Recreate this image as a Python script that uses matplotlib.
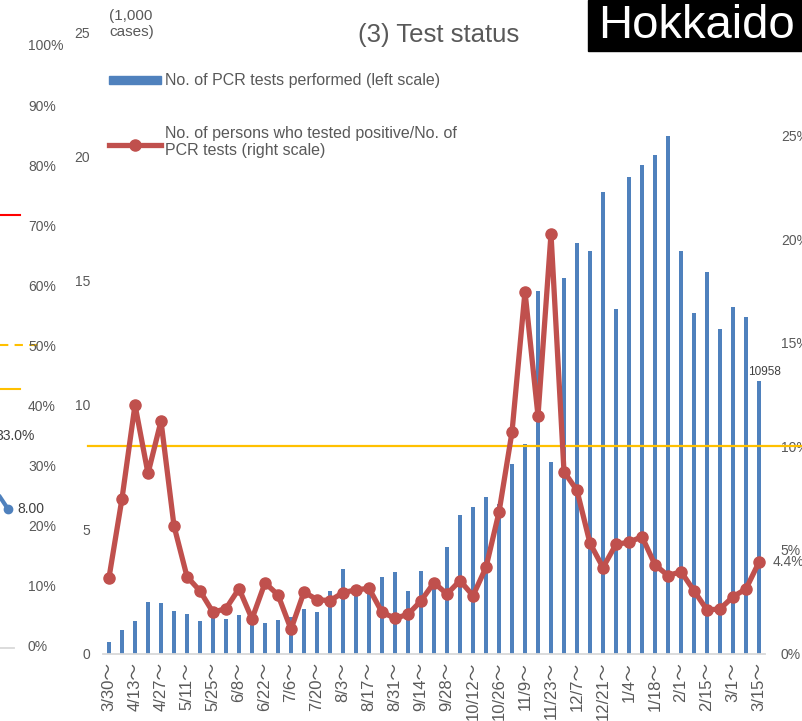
import matplotlib.pyplot as plt
import matplotlib.patches as mpatches
from matplotlib.lines import Line2D

plt.rcParams['font.family'] = ['Liberation Sans', 'Noto Sans CJK JP', 'DejaVu Sans']

# weekly data, week starting 3/30 (2020) to 3/15 (2021)
week_labels = ['3/30～', '4/13～', '4/27～', '5/11～', '5/25～', '6/8～', '6/22～',
               '7/6～', '7/20～', '8/3～', '8/17～', '8/31～', '9/14～', '9/28～',
               '10/12～', '10/26～', '11/9～', '11/23～', '12/7～', '12/21～',
               '1/4～', '1/18～', '2/1～', '2/15～', '3/1～', '3/15～']

# no. of PCR tests (1,000 cases)
pcr_tests = [0.47, 0.95, 1.29, 2.07, 2.05, 1.71, 1.60, 1.32, 1.85, 1.37,
             1.55, 1.43, 1.24, 1.33, 1.48, 1.80, 1.67, 2.52, 3.38, 2.50,
             2.70, 3.09, 3.28, 2.52, 3.32, 2.86, 4.27, 5.59, 5.91, 6.31,
             6.00, 7.64, 8.44, 14.57, 7.70, 15.09, 16.52, 16.20, 18.56, 13.84,
             19.16, 19.67, 20.07, 20.80, 16.20, 13.71, 15.36, 13.04, 13.94, 13.54,
             10.958]

# positive rate (%)
positive_rate = [3.66, 7.48, 12.0, 8.69, 11.22, 6.16, 3.71, 3.02, 1.99, 2.17,
                 3.13, 1.67, 3.41, 2.83, 1.17, 2.97, 2.60, 2.55, 2.94, 3.07,
                 3.15, 1.99, 1.70, 1.89, 2.54, 3.42, 2.87, 3.52, 2.79, 4.16,
                 6.82, 10.69, 17.47, 11.47, 20.25, 8.78, 7.87, 5.32, 4.15, 5.27,
                 5.37, 5.64, 4.28, 3.76, 3.95, 3.03, 2.10, 2.15, 2.74, 3.12,
                 4.41]

left_ticks = [0, 5, 10, 15, 20, 25]
right_ticks = [0, 5, 10, 15, 20, 25]
right_labels = ['0%', '5%', '10%', '15%', '20%', '25%']
threshold = 10

# axis labels of the neighbouring chart that is cut off on the left
nb_labels = ['0%', '10%', '20%', '30%', '40%', '50%', '60%', '70%', '80%', '90%', '100%']

BLUE = '#4F81BD'
RED = '#C0504D'
GOLD = '#FFC000'
GREY = '#595959'

W, H = 802, 721
def fx(px):
    return px / W
def fy(py):
    return 1 - py / H

fig = plt.figure(figsize=(8.02, 7.21), dpi=100)
ax = fig.add_axes([fx(102.5), fy(653.5), fx(765.5) - fx(102.5), fy(32) - fy(653.5)])

x = list(range(len(pcr_tests)))
ax.bar(x, pcr_tests, width=0.32, color=BLUE, zorder=2)
ax.set_xlim(-0.5, len(x) - 0.5)
ax.set_ylim(0, 25)
ax.set_yticks(left_ticks)
ax.set_xticks(x[::2])
ax.set_xticklabels(week_labels, rotation=90, fontsize=12, color=GREY)
ax.tick_params(axis='both', length=0, colors=GREY)
ax.tick_params(axis='y', labelsize=10, pad=9)
ax.tick_params(axis='x', pad=6)
for s in ['top', 'left', 'right']:
    ax.spines[s].set_visible(False)
ax.spines['bottom'].set_color('#D9D9D9')
ax.spines['bottom'].set_linewidth(1.3)
ax.annotate(f'{round(pcr_tests[-1] * 1000)}', (x[-1], pcr_tests[-1]),
            xytext=(4, 2), textcoords='offset points', ha='center', va='bottom',
            fontsize=8.5, color='#404040')

ax2 = ax.twinx()
ax2.set_ylim(0, 30)
ax2.set_yticks(right_ticks)
ax2.set_yticklabels(right_labels)
ax2.tick_params(axis='y', length=0, labelsize=10, colors=GREY, pad=11)
for s in ax2.spines.values():
    s.set_visible(False)
ax2.axhline(threshold, xmin=-0.022, xmax=1.06, color=GOLD, lw=1.6, clip_on=False, zorder=2)
ax2.plot(x, positive_rate, color=RED, lw=3.8, marker='o', ms=8, zorder=3)
ax2.annotate(f'{positive_rate[-1]:.1f}%', (x[-1], positive_rate[-1]),
             xytext=(10, 0), textcoords='offset points', ha='left', va='center',
             fontsize=10, color=GREY)

# titles and units
fig.text(fx(439), fy(35), '(3) Test status', fontsize=18.5, color=GREY, ha='center', va='center')
fig.text(fx(109), fy(24), '(1,000\ncases)', fontsize=11, color=GREY, ha='left', va='center',
         linespacing=1.2)
fig.add_artist(mpatches.Rectangle((fx(588), fy(51)), fx(802) - fx(588), fy(0) - fy(51),
                                  transform=fig.transFigure, color='black'))
fig.text(fx(696), fy(26), 'Hokkaido', fontsize=34, color='white', ha='center', va='center')

# legend
fig.add_artist(mpatches.Rectangle((fx(109), fy(84)), fx(161) - fx(109), fy(76) - fy(84),
                                  transform=fig.transFigure, color=BLUE))
fig.text(fx(165), fy(80), 'No. of PCR tests performed (left scale)', fontsize=11.5,
         color=GREY, ha='left', va='center')
fig.add_artist(Line2D([fx(109), fx(161)], [fy(145), fy(145)], transform=fig.transFigure,
                      color=RED, lw=3.8))
fig.add_artist(Line2D([fx(135)], [fy(145)], transform=fig.transFigure,
                      color=RED, marker='o', ms=8))
fig.text(fx(165), fy(142), 'No. of persons who tested positive/No. of\nPCR tests (right scale)',
         fontsize=11.5, color=GREY, ha='left', va='center', linespacing=1.2)

# neighbouring chart fragment on the left
for k, lab in enumerate(nb_labels):
    fig.text(fx(28), fy(647 - 60.05 * k), lab, fontsize=10, color=GREY, ha='left', va='center')
fig.add_artist(Line2D([0, fx(20)], [fy(215), fy(215)], transform=fig.transFigure, color='red', lw=1.5))
fig.add_artist(Line2D([0, fx(40)], [fy(345), fy(345)], transform=fig.transFigure, color=GOLD,
                      lw=1.5, ls=(0, (4, 3))))
fig.add_artist(Line2D([0, fx(20)], [fy(389), fy(389)], transform=fig.transFigure, color=GOLD, lw=1.5))
fig.add_artist(Line2D([0, fx(8)], [fy(497), fy(509)], transform=fig.transFigure, color=BLUE, lw=3))
fig.add_artist(Line2D([fx(8)], [fy(509)], transform=fig.transFigure, color=BLUE, marker='o', ms=6))
fig.add_artist(Line2D([0, fx(14)], [fy(648), fy(648)], transform=fig.transFigure, color='#D9D9D9', lw=1.3))
fig.text(fx(-5), fy(436), '33.0%', fontsize=10, color='#404040', ha='left', va='center')
fig.text(fx(17), fy(509), '8.00', fontsize=10, color='#404040', ha='left', va='center')

fig.savefig('out.png', dpi=100)
